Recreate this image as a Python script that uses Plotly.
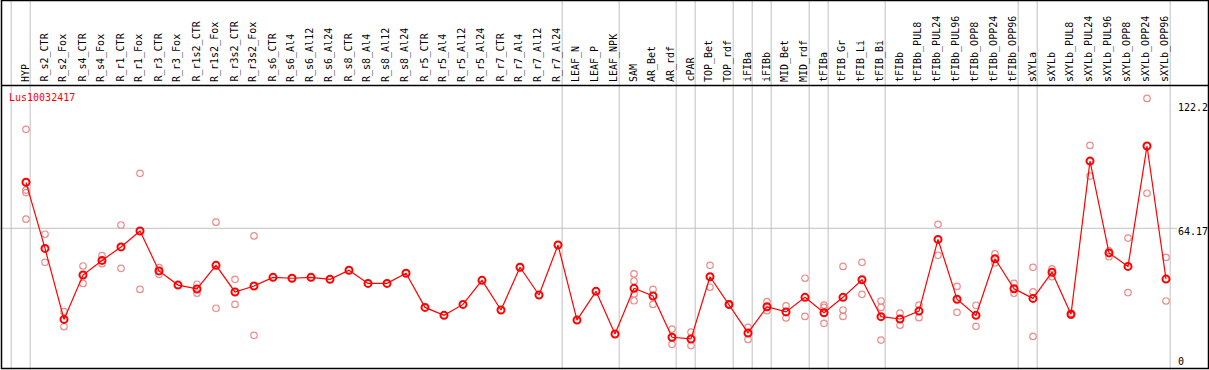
import plotly.graph_objects as go

W, H = 1209, 370

categories = ["HYP", "R_s2_CTR", "R_s2_Fox", "R_s4_CTR", "R_s4_Fox", "R_r1_CTR", "R_r1_Fox",
              "R_r3_CTR", "R_r3_Fox", "R_r1s2_CTR", "R_r1s2_Fox", "R_r3s2_CTR", "R_r3s2_Fox",
              "R_s6_CTR", "R_s6_Al4", "R_s6_Al12", "R_s6_Al24", "R_s8_CTR", "R_s8_Al4", "R_s8_Al12",
              "R_s8_Al24", "R_r5_CTR", "R_r5_Al4", "R_r5_Al12", "R_r5_Al24", "R_r7_CTR", "R_r7_Al4",
              "R_r7_Al12", "R_r7_Al24", "LEAF_N", "LEAF_P", "LEAF_NPK", "SAM", "AR_Bet", "AR_rdf",
              "cPAR", "TOP_Bet", "TOP_rdf", "iFIBa", "iFIBb", "MID_Bet", "MID_rdf", "tFIBa",
              "tFIB_Gr", "tFIB_Li", "tFIB_Bi", "tFIBb", "tFIBb_PUL8", "tFIBb_PUL24", "tFIBb_PUL96",
              "tFIBb_OPP8", "tFIBb_OPP24", "tFIBb_OPP96", "sXYLa", "sXYLb", "sXYLb_PUL8",
              "sXYLb_PUL24", "sXYLb_PUL96", "sXYLb_OPP8", "sXYLb_OPP24", "sXYLb_OPP96"]

means = [85.6, 54.8, 21.7, 42.4, 49.2, 55.5, 62.9, 44.3, 37.7, 35.9, 46.9, 34.5, 37.3,
         41.3, 40.9, 41.3, 40.4, 44.6, 38.5, 38.5, 43.2, 27.3, 23.6, 28.7, 39.9, 26.1, 46.0,
         33.1, 56.4, 21.4, 34.8, 14.9, 36.2, 32.6, 13.4, 12.6, 41.6, 28.7, 15.4, 27.6, 25.2,
         32.0, 24.8, 32.0, 40.2, 23.0, 21.9, 25.6, 59.0, 31.1, 23.6, 50.0, 36.0, 31.5, 43.7,
         24.1, 95.5, 52.7, 46.4, 102.5, 40.5]

replicates = [[110.3, 82.0, 80.8, 68.4], [61.4, 48.3], [25.3, 18.3], [46.6, 38.5], [51.4, 47.7],
              [65.7, 45.5], [89.8, 35.7], [45.8, 42.7], [], [38.1, 33.9], [67.0, 26.9],
              [40.4, 28.7], [60.6, 14.3], [], [], [], [], [], [], [], [], [], [], [], [], [], [],
              [], [], [], [], [], [42.9, 39.6, 33.6, 30.4], [35.7, 28.7], [17.2, 10.1],
              [15.8, 9.5], [46.9, 36.7], [29.0, 28.4], [18.0, 12.4], [30.0, 25.8], [28.0, 22.4],
              [40.9, 23.1], [28.4, 27.3, 19.9], [46.4, 26.1, 23.1], [48.3, 33.4],
              [30.3, 27.3, 12.1], [24.6, 19.0], [28.4, 22.5], [66.0, 51.6], [37.1, 25.0],
              [28.3, 18.5], [52.3, 48.0], [38.5, 33.9], [46.0, 34.5, 13.8], [45.3, 41.6],
              [24.5, 23.6], [102.8, 88.5], [53.7, 50.9], [59.6, 34.2], [124.7, 80.5],
              [50.6, 30.3]]

group_ends = [-1, 0, 28, 31, 34, 35, 37, 38, 39, 41, 42, 45, 52, 53, 60]
gene_id = "Lus10032417"
y_labels = [122.2, 64.17, 0]

rep_x = [c for c, reps in zip(categories, replicates) for _ in reps]
rep_y = [v for reps in replicates for v in reps]

FONT = "DejaVu Sans Mono"
px_per_cat = 19.0
x0_px = 26.0
x_range = [-x0_px / px_per_cat, (W - x0_px) / px_per_cat]
y_zero_px, y_scale = 366.0, 2.146
y_range = [-(H - y_zero_px) / y_scale, y_zero_px / y_scale]

fig = go.Figure()
fig.add_trace(go.Scatter(x=rep_x, y=rep_y, mode="markers",
                         marker=dict(symbol="circle-open", size=6.5, color="rgb(236,140,140)",
                                     line=dict(width=1.2)),
                         hoverinfo="skip", showlegend=False))
fig.add_trace(go.Scatter(x=categories, y=means, mode="lines+markers",
                         line=dict(color="red", width=1.2),
                         marker=dict(symbol="circle-open", size=7, color="red", line=dict(width=2)),
                         showlegend=False))

shapes = []
gray = "#c0c0c0"
for i in group_ends:
    shapes.append(dict(type="line", xref="x", yref="paper", x0=i + 0.22, x1=i + 0.22,
                       y0=0, y1=1, line=dict(color=gray, width=1), layer="below"))
shapes.append(dict(type="line", xref="paper", yref="y", x0=0, x1=1177 / W, y0=y_labels[1],
                   y1=y_labels[1], line=dict(color=gray, width=1), layer="below"))


def px(xp):
    return xp / W


def py(yp):
    return 1 - yp / H


shapes.append(dict(type="rect", xref="paper", yref="paper", x0=px(1.5), x1=px(1208.5),
                   y0=py(368.5), y1=py(0.5), line=dict(color="black", width=1.5)))
shapes.append(dict(type="line", xref="paper", yref="paper", x0=px(1.5), x1=px(1208.5),
                   y0=py(85.5), y1=py(85.5), line=dict(color="black", width=1.5)))

annotations = []
for c in categories:
    annotations.append(dict(x=c, xref="x", y=py(83), yref="paper", text=c, textangle=-90,
                            showarrow=False, xanchor="center", yanchor="bottom", xshift=-1,
                            borderpad=0, font=dict(family=FONT, size=10, color="black")))
annotations.append(dict(x=px(8), xref="paper", y=py(97), yref="paper", text=gene_id,
                        showarrow=False, xanchor="left", yanchor="middle", borderpad=0,
                        font=dict(family=FONT, size=10, color="red")))
for k, v in enumerate(y_labels):
    last = k == len(y_labels) - 1
    annotations.append(dict(x=px(1177), xref="paper", y=v, yref="y", text=str(v),
                            showarrow=False, xanchor="left",
                            yanchor="bottom" if last else "top",
                            yshift=-2 if last else 3, borderpad=0,
                            font=dict(family=FONT, size=10, color="black")))

fig.update_layout(
    width=W, height=H, margin=dict(l=0, r=0, t=0, b=0),
    paper_bgcolor="white", plot_bgcolor="white",
    xaxis=dict(type="category", categoryorder="array", categoryarray=categories,
               range=x_range, showgrid=False, zeroline=False,
               showticklabels=False, ticks="", domain=[0, 1], fixedrange=True),
    yaxis=dict(range=y_range, showgrid=False, zeroline=False, showticklabels=False,
               ticks="", domain=[0, 1], fixedrange=True),
    shapes=shapes, annotations=annotations, showlegend=False,
)
fig.write_html("out.html", config={"displayModeBar": False},
               post_script="document.body.style.margin='0';document.body.style.padding='0';")
